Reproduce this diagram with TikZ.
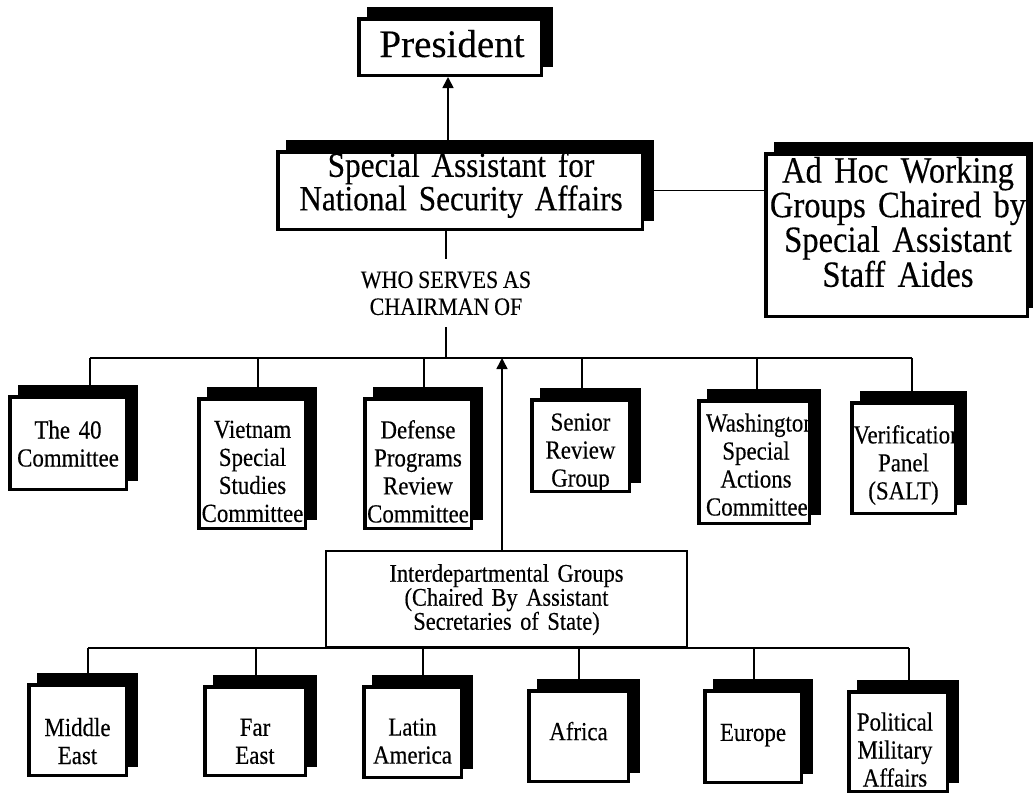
\documentclass[tikz,border=0pt]{standalone}
\usepackage{fontspec}
\setmainfont{Liberation Serif}[FakeBold=0.3]
\newfontfamily\condf{Liberation Serif}[FakeStretch=0.88, FakeBold=0.3]
\newcommand\cfont[2]{\condf\fontsize{#1}{#2}\selectfont\spaceskip=0.19em plus 0.05em\relax}
\usetikzlibrary{arrows.meta,shadows}
\begin{document}
\begin{tikzpicture}[x=1pt,y=-1pt,
  sbox/.style={draw=black, line width=3.5pt, fill=white, inner sep=0pt,
    copy shadow={shadow xshift=10pt, shadow yshift=10.5pt, fill=black, draw=black, line width=3.5pt}},
  pbox/.style={draw=black, line width=1.8pt, fill=white, inner sep=0pt},
  txt/.style={align=center, inner sep=0pt},
  big/.style={font=\cfont{35.5}{32}},
  small/.style={font=\cfont{26}{28}},
  conn/.style={line width=1.6pt},
  arr/.style={line width=1.6pt, -{Triangle[width=11pt,length=11pt]}}
]
\useasboundingbox (0,0) rectangle (1033,796);
\fill[white] (0,0) rectangle (1033,796);

% top level
\node[sbox, minimum width=182.5pt, minimum height=56.5pt] (pres) at (450,47) {};
\node[txt, font=\fontsize{39}{39}\selectfont] (prest) at (452,43.7) {President};

\node[sbox, minimum width=364.5pt, minimum height=77.5pt] (sa) at (460,190.5) {};
\node[txt, big, text width=355pt] (sat) at (461,184.9) {Special Assistant for\\National Security Affairs};

\node[sbox, minimum width=261.5pt, minimum height=162.5pt] (adhoc) at (896.5,235) {};
\node[txt, font=\cfont{37}{33.5}, text width=258pt] (adhoct) at (898,222)
  {Ad Hoc Working\\Groups Chaired by\\Special Assistant\\Staff Aides};

\node[txt, font=\cfont{25}{27}, inner ysep=12pt] (who) at (446,293.25)
  {WHO SERVES AS\\CHAIRMAN OF};

% committees
\node[sbox, minimum width=116.5pt, minimum height=92.5pt] (t40) at (68,443) {};
\node[txt, small, text width=110pt] (t40t) at (68,443.6) {The 40\\Committee};

\node[sbox, minimum width=106.5pt, minimum height=129.5pt] (viet) at (252,463.5) {};
\node[txt, small, text width=102pt] (vietT) at (252.5,471.4) {Vietnam\\Special\\Studies\\Committee};

\node[sbox, minimum width=106.5pt, minimum height=129.5pt] (def) at (418,463.5) {};
\node[txt, small, text width=102pt] (defT) at (418,471.4) {Defense\\Programs\\Review\\Committee};

\node[sbox, minimum width=97.5pt, minimum height=91.5pt] (srg) at (580.5,445.5) {};
\node[txt, small, text width=92pt] (srgT) at (580.5,452.7) {Senior\\Review\\Group};

\node[sbox, minimum width=110.5pt, minimum height=122.5pt] (wsag) at (754,462) {};
\node[txt, small, text width=100pt] (wsagT) at (756,464.6) {Washington\\Special\\Actions\\Committee};

\node[sbox, minimum width=103.5pt, minimum height=110.5pt] (ver) at (903.5,458) {};
\node[txt, small, text width=100pt] (verT) at (903.5,465) {Verification\\Panel\\(SALT)};

% interdepartmental
\node[pbox, minimum width=361.2pt, minimum height=96.2pt] (idg) at (506.5,599) {};
\node[txt, font=\cfont{25.5}{24}, text width=355pt] (idgT) at (506.5,599.6)
  {Interdepartmental Groups\\(Chaired By Assistant\\Secretaries of State)};

% regional groups
\node[sbox, minimum width=97.5pt, minimum height=90.5pt] (me) at (77.5,730) {};
\node[txt, small, text width=92pt] (meT) at (77.5,741.1) {Middle\\East};

\node[sbox, minimum width=100.5pt, minimum height=88.5pt] (fe) at (255,731) {};
\node[txt, small, text width=95pt] (feT) at (255,741.4) {Far\\East};

\node[sbox, minimum width=97.5pt, minimum height=90.5pt] (la) at (412.5,732) {};
\node[txt, small, text width=92pt] (laT) at (412.5,741.1) {Latin\\America};

\node[sbox, minimum width=99.5pt, minimum height=90.5pt] (af) at (578.5,736) {};
\node[txt, small, text width=94pt] (afT) at (578.5,731.1) {Africa};

\node[sbox, minimum width=96.5pt, minimum height=91.5pt] (eu) at (753,736.5) {};
\node[txt, small, text width=91pt] (euT) at (753,735.2) {Europe};

\node[sbox, minimum width=98.5pt, minimum height=99.5pt] (pma) at (898,741.5) {};
\node[txt, small, text width=94pt] (pmaT) at (895,749.6) {Political\\Military\\Affairs};

% connectors
\coordinate (pa) at ([xshift=-2pt]pres.south);
\draw[arr] (pa |- sa.north) -- (pa);
\draw[conn] (sa.east) -- (sa.east -| adhoc.west);
\draw[conn] (sa.south -| who.north) -- (who.north);

\coordinate (b1) at (90,358);
\coordinate (b2) at (258,358);
\coordinate (b3) at (424,358);
\coordinate (bw) at (446,358);
\coordinate (ba) at (502,358);
\coordinate (b4) at (582,358);
\coordinate (b5) at (757,358);
\coordinate (b6) at (912,358);
\draw[conn] (who.south) -- (bw);
\draw[conn] (b1) -- (b6);
\draw[conn] (b1) -- (b1 |- t40.north);
\draw[conn] (b2) -- (b2 |- viet.north);
\draw[conn] (b3) -- (b3 |- def.north);
\draw[conn] (b4) -- (b4 |- srg.north);
\draw[conn] (b5) -- (b5 |- wsag.north);
\draw[conn] (b6) -- (b6 |- ver.north);
\draw[arr] (ba |- idg.north) -- (ba);

\coordinate (c1) at (88,648);
\coordinate (c2) at (256,648);
\coordinate (c3) at (423,648);
\coordinate (c4) at (579,648);
\coordinate (c5) at (754,648);
\coordinate (c6) at (909,648);
\draw[conn] (c1) -- (c6);
\draw[conn] (c1) -- (c1 |- me.north);
\draw[conn] (c2) -- (c2 |- fe.north);
\draw[conn] (c3) -- (c3 |- la.north);
\draw[conn] (c4) -- (c4 |- af.north);
\draw[conn] (c5) -- (c5 |- eu.north);
\draw[conn] (c6) -- (c6 |- pma.north);
\end{tikzpicture}
\end{document}
